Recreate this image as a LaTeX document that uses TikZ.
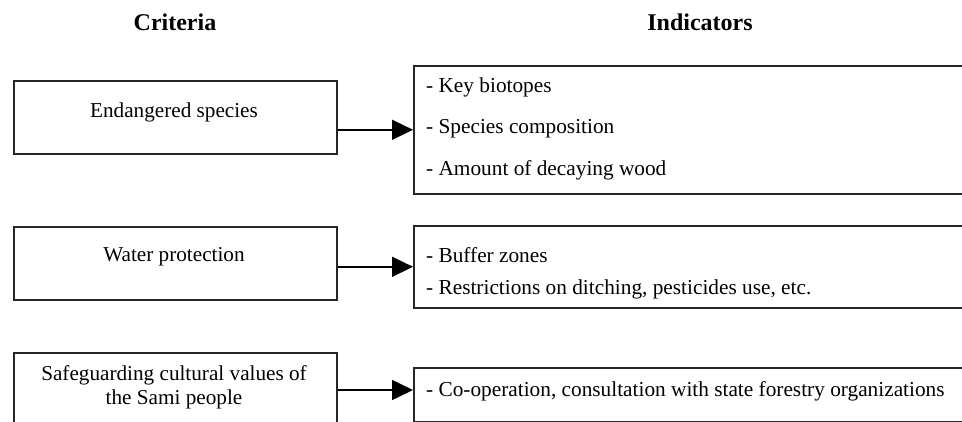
\documentclass[tikz,border=0pt]{standalone}
\usepackage{fontspec}
\setmainfont{Liberation Serif}
\usetikzlibrary{arrows.meta}
\begin{document}
\begin{tikzpicture}[x=1pt,y=-1pt,
 box/.style={draw=black!85, line width=1.6pt, rectangle, inner sep=0pt, anchor=north west},
 crit/.style={font=\fontsize{21.2}{24}\selectfont, align=center, inner sep=0pt},
 ind/.style={font=\fontsize{21.3}{24}\selectfont, anchor=west, inner sep=0pt},
 head/.style={font=\fontsize{24}{28}\selectfont\bfseries, inner sep=0pt},
 conn/.style={line width=1.6pt, draw=black, -{Triangle[length=21pt,width=20pt]}}]
\useasboundingbox (0,0) rectangle (962,422);
\clip (0,0) rectangle (962,422);
\node[head] (hc) at (175,22) {Criteria};
\node[head] (hi) at (700,22) {Indicators};
% row 1
\node[box, minimum width=323pt, minimum height=73pt] (L1) at (13,80) {};
\node[crit] (t1) at (174,112) {Endangered species};
\node[box, minimum width=600pt, minimum height=128pt] (R1) at (413,65) {};
\node[ind] (i11) at (426,87) {- Key biotopes};
\node[ind] (i12) at (426,129) {- Species composition};
\node[ind] (i13) at (426,170) {- Amount of decaying wood};
\draw[conn] (R1.west -| L1.east) -- (R1.west);
% row 2
\node[box, minimum width=323pt, minimum height=73pt] (L2) at (13,226) {};
\node[crit] (t2) at (174,257) {Water protection};
\node[box, minimum width=600pt, minimum height=82pt] (R2) at (413,225) {};
\node[ind] (i21) at (426,255) {- Buffer zones};
\node[ind] (i22) at (426,289) {- Restrictions on ditching, pesticides use, etc.};
\draw[conn] (R2.west -| L2.east) -- (R2.west);
% row 3
\node[box, minimum width=323pt, minimum height=100pt] (L3) at (13,352) {};
\node[crit] (t3) at (174,387) {Safeguarding cultural values of\\the Sami people};
\node[box, minimum width=600pt, minimum height=54pt] (R3) at (413,367) {};
\node[ind] (i31) at (426,391) {- Co-operation, consultation with state forestry organizations};
\coordinate (a3) at (R3.west |- 0,390);
\draw[conn] (a3 -| L3.east) -- (a3);
\end{tikzpicture}
\end{document}
